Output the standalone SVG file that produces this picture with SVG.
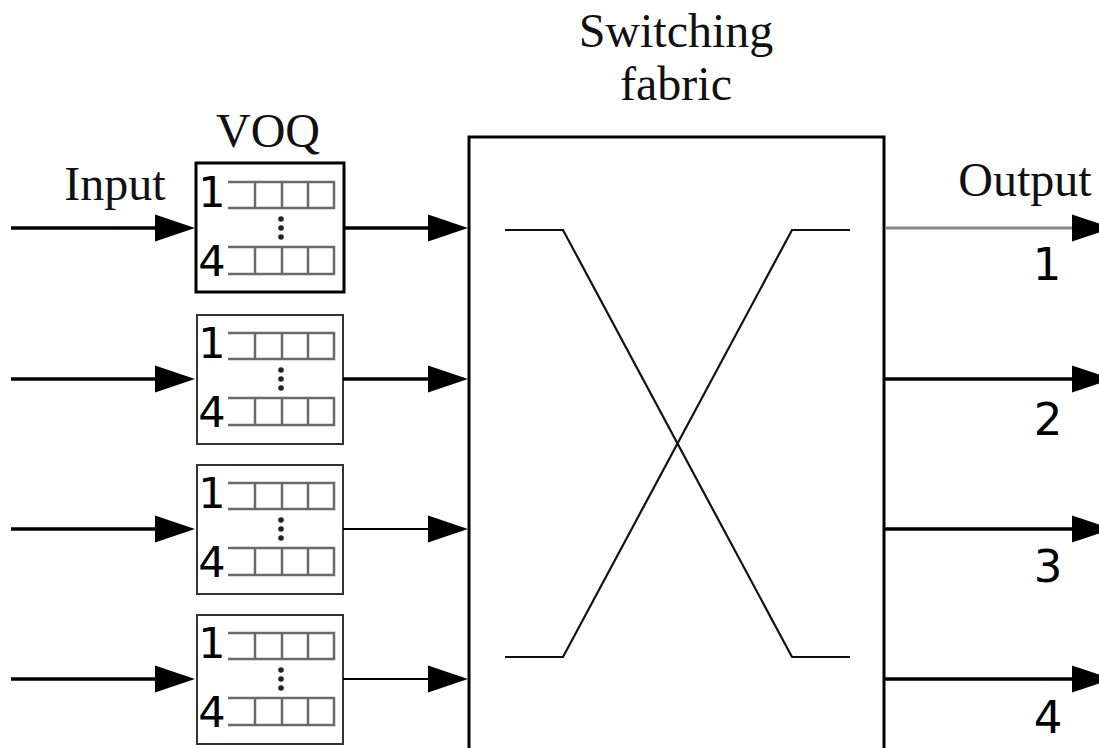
<svg xmlns="http://www.w3.org/2000/svg" xmlns:xlink="http://www.w3.org/1999/xlink" width="1099" height="748" viewBox="0 0 1099 748">
<style>
.title{font-family:"Liberation Serif","Times New Roman",serif;font-size:48px;fill:#111;text-anchor:middle}
.num{font-family:"DejaVu Sans","Noto Sans",sans-serif;fill:#000;text-anchor:middle}
.qn{font-size:43px}
.on{font-size:45px}
.q{fill:none;stroke:#6a6a6a;stroke-width:2.5}
.dot{fill:#222}
.box1{fill:#fff;stroke:#000;stroke-width:3}
.box{fill:#fff;stroke:#333;stroke-width:2}
.wire{fill:none;stroke:#000;stroke-width:3.5}
.wthin{fill:none;stroke:#000;stroke-width:2.2}
.wgray{fill:none;stroke:#888;stroke-width:3}
.fabric{fill:#fff;stroke:#000;stroke-width:3}
.cross{fill:none;stroke:#111;stroke-width:2.2}
</style>
<defs>
<marker id="ah" markerUnits="userSpaceOnUse" markerWidth="40" markerHeight="28" refX="0" refY="13.5" orient="auto" overflow="visible">
<path d="M0,0 L40,13.5 L0,27 Z" fill="#000"/>
</marker>
<g id="queues">
<path class="q" d="M228,-46 H334 V-20 H228 M255,-46 V-20 M282,-46 V-20 M308,-46 V-20"/>
<path class="q" d="M228,19 H334 V46 H228 M255,19 V46 M282,19 V46 M308,19 V46"/>
<circle class="dot" cx="281" cy="-9" r="2.8"/>
<circle class="dot" cx="281" cy="0" r="2.8"/>
<circle class="dot" cx="281" cy="9" r="2.8"/>
<text class="num qn" x="212" y="-21">1</text>
<text class="num qn" x="212" y="48">4</text>
</g>
</defs>
<rect width="1099" height="748" fill="#fff"/>

<g id="labels">
<text class="title" x="676" y="47">Switching</text>
<text class="title" x="676" y="100">fabric</text>
<text class="title" x="268" y="147">VOQ</text>
<text class="title" x="115" y="200">Input</text>
<text class="title" x="1025" y="196">Output</text>
</g>

<g id="voq1" transform="translate(0,228)">
<rect class="box1" x="196" y="-65" width="148" height="129"/>
<use xlink:href="#queues" href="#queues"/>
</g>
<g id="voq2" transform="translate(0,379)">
<rect class="box" x="197" y="-64" width="146" height="129"/>
<use xlink:href="#queues" href="#queues"/>
</g>
<g id="voq3" transform="translate(0,529)">
<rect class="box" x="197" y="-64" width="146" height="129"/>
<use xlink:href="#queues" href="#queues"/>
</g>
<g id="voq4" transform="translate(0,679)">
<rect class="box" x="197" y="-64" width="146" height="129"/>
<use xlink:href="#queues" href="#queues"/>
</g>

<g id="switch">
<path class="fabric" d="M469,760 V137 H884 V760"/>
<path class="cross" d="M505,230 H563 L792,657 H850"/>
<path class="cross" d="M505,657 H563 L792,230 H850"/>
</g>

<g id="connectors">
<path class="wire" d="M11,228 H155" marker-end="url(#ah)"/>
<path class="wire" d="M11,379 H155" marker-end="url(#ah)"/>
<path class="wire" d="M11,529 H155" marker-end="url(#ah)"/>
<path class="wire" d="M11,679 H155" marker-end="url(#ah)"/>
<path class="wire" d="M344,228 H428" marker-end="url(#ah)"/>
<path class="wire" d="M343,379 H428" marker-end="url(#ah)"/>
<path class="wthin" d="M343,529 H428" marker-end="url(#ah)"/>
<path class="wthin" d="M343,679 H428" marker-end="url(#ah)"/>
<path class="wgray" d="M885,228 H1072" marker-end="url(#ah)"/>
<path class="wire" d="M885,379 H1072" marker-end="url(#ah)"/>
<path class="wire" d="M885,529 H1072" marker-end="url(#ah)"/>
<path class="wire" d="M885,679 H1072" marker-end="url(#ah)"/>
</g>

<g id="outlabels">
<text class="num on" x="1047" y="280">1</text>
<text class="num on" x="1048" y="435">2</text>
<text class="num on" x="1048" y="582">3</text>
<text class="num on" x="1048" y="733">4</text>
</g>
</svg>
